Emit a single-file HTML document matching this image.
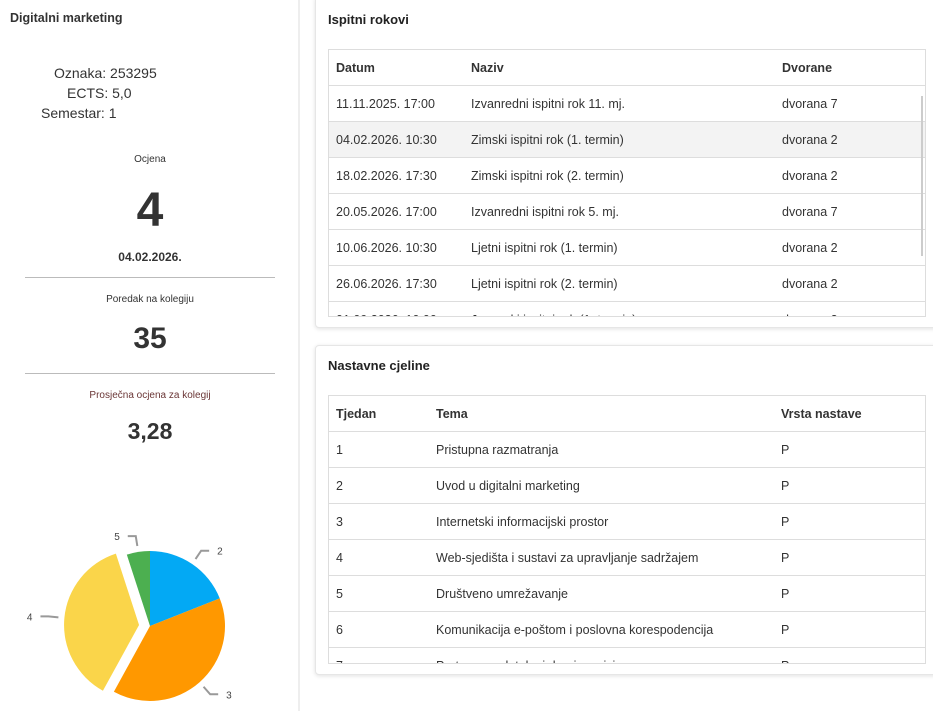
<!DOCTYPE html>
<html><head><meta charset="utf-8"><style>
*{box-sizing:border-box;margin:0;padding:0}
body{width:933px;height:711px;overflow:hidden;background:#fff;font-family:"Liberation Sans",sans-serif;color:#333;position:relative}
.abs{position:absolute}
.c{text-align:center;left:0;width:300px}
.card{position:absolute;left:315px;width:630px;background:#fff;border:1px solid #e6e6e6;border-radius:4px;box-shadow:0 1px 4px rgba(0,0,0,.12)}
.ct{position:absolute;left:12px;top:12px;font-size:13px;font-weight:bold;color:#222}
.tbl{position:absolute;left:12px;width:598px;border:1px solid #ddd;overflow:hidden}
.row{position:absolute;left:0;width:598px;height:36px;border-bottom:1px solid #ddd;font-size:12.5px;line-height:36px}
.row span{position:absolute}
.hd{font-weight:bold}
.hl{background:#f3f3f3}
</style></head><body>
<div class="abs" style="left:0;top:0;width:300px;height:711px;border-right:2px solid #eee"></div>
<div class="abs" style="left:10px;top:11px;font-size:12.5px;font-weight:bold">Digitalni marketing</div>
<div class="abs" style="left:54px;top:65px;font-size:14px">Oznaka: 253295</div>
<div class="abs" style="left:67px;top:85px;font-size:14px">ECTS: 5,0</div>
<div class="abs" style="left:41px;top:105px;font-size:14px">Semestar: 1</div>
<div class="abs c" style="top:154px;font-size:10px">Ocjena</div>
<div class="abs c" style="top:185px;font-size:48px;font-weight:bold;line-height:52px">4</div>
<div class="abs c" style="top:250px;font-size:12px;font-weight:bold">04.02.2026.</div>
<div class="abs" style="left:25px;top:277px;width:250px;border-top:1px solid #bbb"></div>
<div class="abs c" style="top:294px;font-size:10px">Poredak na kolegiju</div>
<div class="abs c" style="top:322px;font-size:30px;font-weight:bold">35</div>
<div class="abs" style="left:25px;top:373px;width:250px;border-top:1px solid #bbb"></div>
<div class="abs c" style="top:390px;font-size:10px;color:#6a3535">Prosječna ocjena za kolegij</div>
<div class="abs c" style="top:418px;font-size:23px;font-weight:bold">3,28</div>
<svg id="pie" class="abs" style="left:0;top:480px" width="300" height="231"></svg>

<div class="card" style="top:-4px;height:332px">
<div class="ct" style="top:15px">Ispitni rokovi</div>
<div class="tbl" id="t1" style="top:52px;height:268px"></div>
<div class="abs" style="left:605px;top:99px;width:2px;height:160px;background:#ccc"></div>
</div>
<div class="card" style="top:345px;height:330px">
<div class="ct">Nastavne cjeline</div>
<div class="tbl" id="t2" style="top:49px;height:269px"></div>
</div>
<script>
const t1=[["Datum","Naziv","Dvorane"],["11.11.2025. 17:00","Izvanredni ispitni rok 11. mj.","dvorana 7"],["04.02.2026. 10:30","Zimski ispitni rok (1. termin)","dvorana 2"],["18.02.2026. 17:30","Zimski ispitni rok (2. termin)","dvorana 2"],["20.05.2026. 17:00","Izvanredni ispitni rok 5. mj.","dvorana 7"],["10.06.2026. 10:30","Ljetni ispitni rok (1. termin)","dvorana 2"],["26.06.2026. 17:30","Ljetni ispitni rok (2. termin)","dvorana 2"],["01.09.2026. 10:00","Jesenski ispitni rok (1. termin)","dvorana 2"]];
const t2=[["Tjedan","Tema","Vrsta nastave"],["1","Pristupna razmatranja","P"],["2","Uvod u digitalni marketing","P"],["3","Internetski informacijski prostor","P"],["4","Web-sjedišta i sustavi za upravljanje sadržajem","P"],["5","Društveno umrežavanje","P"],["6","Komunikacija e-poštom i poslovna korespodencija","P"],["7","Pretraga podataka i drugi servisi","P"]];
function table(id,data,cols,hl){
  const el=document.getElementById(id);
  data.forEach((r,i)=>{
    const d=document.createElement('div');
    d.className='row'+(i==0?' hd':'')+(i==hl?' hl':'');
    d.style.top=(i*36)+'px';
    
    
    r.forEach((v,j)=>{const s=document.createElement('span');s.style.left=cols[j]+'px';s.textContent=v;d.appendChild(s);});
    el.appendChild(d);
  });
}
table('t1',t1,[7,142,453],2);
table('t2',t2,[7,107,452],-1);

const grades=["2","3","4","5"];
const counts=[19,39,37,5];
const colors=["#03a9f4","#ff9800","#fad54a","#4caf50"];
const explode=[0,0,1,0];
const svg=document.getElementById('pie');
const NS="http://www.w3.org/2000/svg";
const cx=150,cy=146,R=75;
const total=counts.reduce((a,b)=>a+b,0);
let a0=0;
function pt(a,r,ox,oy){return [ox+r*Math.sin(a),oy-r*Math.cos(a)];}
counts.forEach((v,i)=>{
  const a1=a0+v/total*2*Math.PI, mid=(a0+a1)/2;
  const off=explode[i]?11:0;
  const ox=cx+off*Math.sin(mid), oy=cy-off*Math.cos(mid);
  const p0=pt(a0,R,ox,oy),p1=pt(a1,R,ox,oy);
  const path=document.createElementNS(NS,'path');
  path.setAttribute('d',`M${ox},${oy}L${p0[0]},${p0[1]}A${R},${R} 0 ${a1-a0>Math.PI?1:0} 1 ${p1[0]},${p1[1]}Z`);
  path.setAttribute('fill',colors[i]);
  
  
  svg.appendChild(path);
  const e1=pt(mid,R+6,ox,oy),e2=pt(mid,R+16,ox,oy);
  const right=Math.sin(mid)>=0;
  const e3=[e2[0]+(right?8:-8),e2[1]];
  const ln=document.createElementNS(NS,'polyline');
  ln.setAttribute('points',`${e1[0]},${e1[1]} ${e2[0]},${e2[1]} ${e3[0]},${e3[1]}`);
  ln.setAttribute('fill','none');ln.setAttribute('stroke','#999');ln.setAttribute('stroke-width','2');
  
  
  svg.appendChild(ln);
  const tx=document.createElementNS(NS,'text');
  tx.setAttribute('x',e3[0]+(right?8:-8));tx.setAttribute('y',e3[1]+4);
  tx.setAttribute('text-anchor',right?'start':'end');
  tx.setAttribute('font-size','10');tx.setAttribute('fill','#444');
  tx.setAttribute('font-family','Liberation Sans, sans-serif');
  tx.textContent=grades[i];
  
  
  svg.appendChild(tx);
  a0=a1;
});
</script>
</body></html>
